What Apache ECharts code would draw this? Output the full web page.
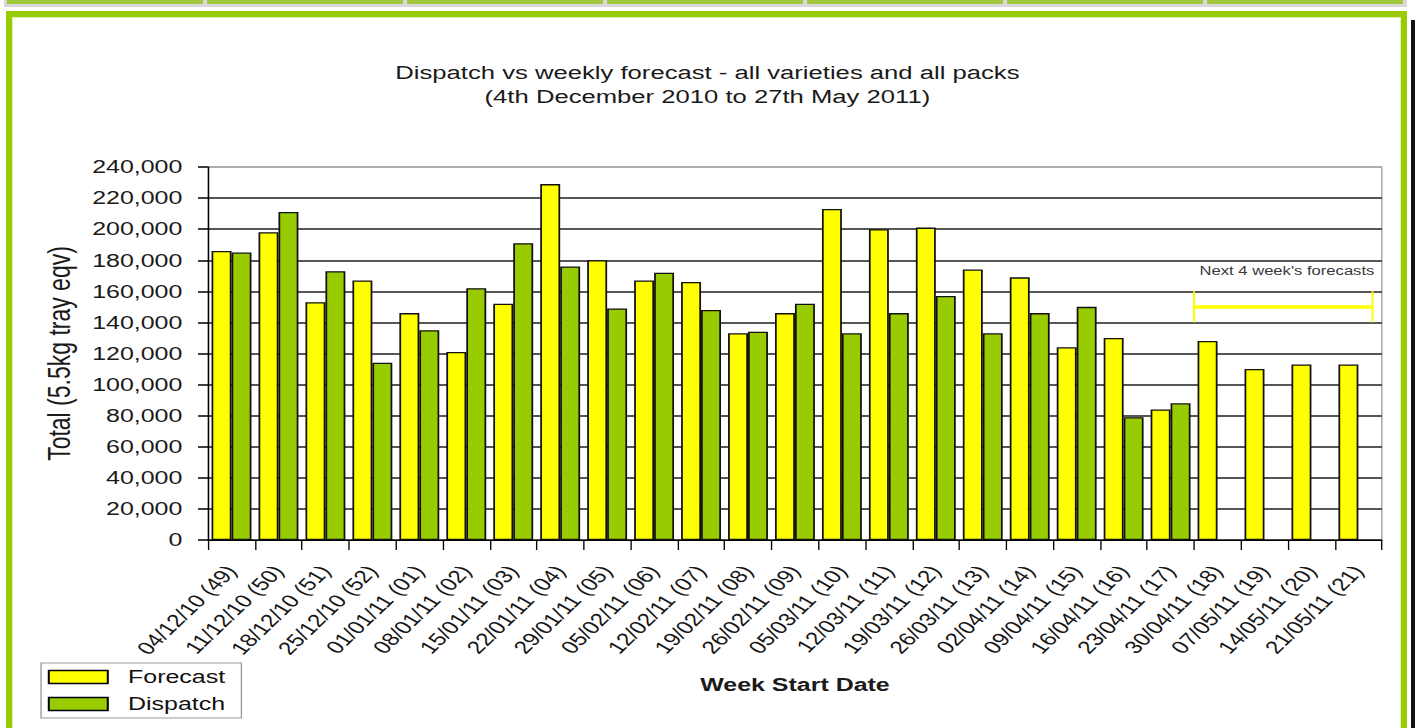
<!DOCTYPE html>
<html>
<head>
<meta charset="utf-8">
<script src="https://cdn.jsdelivr.net/npm/echarts@6/dist/echarts.min.js"></script>
<style>
  html, body { margin: 0; padding: 0; width: 1415px; height: 728px; overflow: hidden; background: #ffffff; }
  #strip { position: absolute; left: 4px; top: 0; width: 1403px; height: 7px; background: #d8d8d8; }
  .cell { position: absolute; top: 0; height: 3.5px; width: 196px; background: #9fc83c; }
  #frame { position: absolute; left: 6px; top: 11px; width: 1389px; height: 800px;
           border: 6.5px solid #99cc00; background: #ffffff; }
  #inner { position: absolute; left: 0; top: 0; right: 0; bottom: 0; border: 1px solid #e4f2b8; }
  #edge { position: absolute; left: 1411px; top: 20px; width: 4px; height: 708px; background: #111; }
  #chart { position: absolute; left: 0; top: 0; width: 1048.15px; height: 728px;
           transform: scaleX(1.35); transform-origin: 0 0; }
</style>
</head>
<body>
<div id="strip">
  <div class="cell" style="left:3px"></div>
  <div class="cell" style="left:203px"></div>
  <div class="cell" style="left:403px"></div>
  <div class="cell" style="left:603px"></div>
  <div class="cell" style="left:803px"></div>
  <div class="cell" style="left:1003px"></div>
  <div class="cell" style="left:1203px"></div>
</div>
<div id="frame"><div id="inner"></div></div>
<div id="edge"></div>
<div id="chart"></div>
<script>
const categories = ['04/12/10 (49)','11/12/10 (50)','18/12/10 (51)','25/12/10 (52)','01/01/11 (01)',
  '08/01/11 (02)','15/01/11 (03)','22/01/11 (04)','29/01/11 (05)','05/02/11 (06)','12/02/11 (07)',
  '19/02/11 (08)','26/02/11 (09)','05/03/11 (10)','12/03/11 (11)','19/03/11 (12)','26/03/11 (13)',
  '02/04/11 (14)','09/04/11 (15)','16/04/11 (16)','23/04/11 (17)','30/04/11 (18)','07/05/11 (19)',
  '14/05/11 (20)','21/05/11 (21)'];
const forecast = [186000,198000,153000,167000,146000,121000,152000,229000,180000,167000,166000,133000,
  146000,213000,200000,201000,174000,169000,124000,130000,84000,128000,110000,113000,113000];
const dispatch = [185000,211000,173000,114000,135000,162000,191000,176000,149000,172000,148000,134000,
  152000,133000,146000,157000,133000,146000,150000,79000,88000,null,null,null,null];
const yTicks = [0,20000,40000,60000,80000,100000,120000,140000,160000,180000,200000,220000,240000];
// "Next 4 week's forecasts" bracket: first / last forecast-only week and value range
const forecastWindow = [21, 24];
const bracketValues = [140000, 150000, 160000];
const bracketLabelValue = 173500;
const bracketLabel = "Next 4 week's forecasts";

const FONT = "'Liberation Sans', Arial, Helvetica, sans-serif";
const fmt = v => String(v).replace(/\B(?=(\d{3})+(?!\d))/g, ',');

const chart = echarts.init(document.getElementById('chart'), null, { renderer: 'svg' });
const splitColors = yTicks.map((v, i) => i === yTicks.length - 1 ? '#a0a0a0' : '#1e1e1e');

chart.setOption({
  backgroundColor: 'transparent',
  animation: false,
  title: {
    text: 'Dispatch vs weekly forecast - all varieties and all packs\n(4th December 2010 to 27th May 2011)',
    left: 'center', top: 61, padding: 0,
    textStyle: { fontFamily: FONT, fontSize: 19, fontWeight: 'normal', color: '#1a1a1a', lineHeight: 24 }
  },
  legend: {
    data: ['Forecast', 'Dispatch'],
    orient: 'vertical', left: 30.4, top: 663,
    icon: 'rect', itemWidth: 43.7, itemHeight: 13, itemGap: 6,
    padding: [3.5, 12, 3.5, 5],
    borderColor: '#9a9a9a', borderWidth: 1, backgroundColor: '#ffffff',
    itemStyle: { borderColor: '#000', borderWidth: 1.5 },
    textStyle: { fontFamily: FONT, fontSize: 18.5, color: '#111', lineHeight: 21, padding: [0, 0, 0, 10] }
  },
  grid: {
    left: 154.1, right: 24.4, top: 167, bottom: 188,
    show: true, borderColor: '#a0a0a0', borderWidth: 1, backgroundColor: 'transparent'
  },
  xAxis: {
    type: 'category', data: categories,
    name: 'Week Start Date', nameLocation: 'middle', nameGap: 135,
    nameTextStyle: { fontFamily: FONT, fontSize: 18.5, fontWeight: 'bold', color: '#1a1a1a', lineHeight: 20 },
    axisLine: { show: true, lineStyle: { color: '#000', width: 1 } },
    axisTick: { show: true, interval: 0, length: 10, lineStyle: { color: '#000', width: 1 } },
    axisLabel: { interval: 0, rotate: 52, margin: 28, fontFamily: FONT, fontSize: 18, color: '#161616' },
    splitLine: { show: false }
  },
  yAxis: {
    type: 'value', min: 0, max: 240000, interval: 20000,
    name: 'Total (5.5kg tray eqv)', nameLocation: 'middle', nameRotate: 90, nameGap: 99,
    nameTextStyle: { fontFamily: FONT, fontSize: 23, color: '#1a1a1a' },
    axisLine: { show: true, lineStyle: { color: '#000', width: 1 } },
    axisTick: { show: true, length: 7.4, lineStyle: { color: '#000', width: 1.5 } },
    axisLabel: { margin: 19, fontFamily: FONT, fontSize: 18.5, color: '#1a1a1a', formatter: fmt },
    splitLine: { show: true, lineStyle: { color: splitColors, width: 1.6 } }
  },
  series: [
    {
      name: 'Forecast', type: 'bar', data: forecast,
      barGap: '0%', barCategoryGap: '15%',
      itemStyle: { color: '#FFFF00', borderColor: '#111', borderWidth: 1.3 }
    },
    {
      name: 'Dispatch', type: 'bar', data: dispatch,
      barGap: '0%', barCategoryGap: '15%',
      itemStyle: { color: '#99CC00', borderColor: '#111', borderWidth: 1.3 }
    },
    {
      name: 'bracket', type: 'custom', clip: false, silent: true, z: 5,
      data: [[forecastWindow[0], bracketValues[1]]],
      encode: { x: 0, y: 1 },
      renderItem: function (params, api) {
        const bw = api.size([1, 0])[0];
        const s = api.coord([forecastWindow[0], bracketValues[1]]);
        const e = api.coord([forecastWindow[1], bracketValues[1]]);
        const yLo = api.coord([forecastWindow[0], bracketValues[0]])[1];
        const yHi = api.coord([forecastWindow[0], bracketValues[2]])[1];
        const yLab = api.coord([forecastWindow[1], bracketLabelValue])[1];
        const x1 = s[0] - bw / 2;
        const x2 = e[0] + bw * 0.3;
        return {
          type: 'group',
          children: [
            { type: 'line', shape: { x1: x1, y1: s[1], x2: x2, y2: s[1] }, style: { stroke: '#FFFF00', lineWidth: 3.5 } },
            { type: 'line', shape: { x1: x1, y1: yLo, x2: x1, y2: yHi }, style: { stroke: '#FFFF00', lineWidth: 1.5 } },
            { type: 'line', shape: { x1: x2, y1: yLo, x2: x2, y2: yHi }, style: { stroke: '#FFFF00', lineWidth: 1.5 } },
            { type: 'text', style: { text: bracketLabel, x: e[0] + bw * 0.34, y: yLab, align: 'right',
                verticalAlign: 'middle', fontFamily: FONT, fontSize: 12.3, fill: '#3a3a3a' } }
          ]
        };
      }
    }
  ]
});
</script>
</body>
</html>
